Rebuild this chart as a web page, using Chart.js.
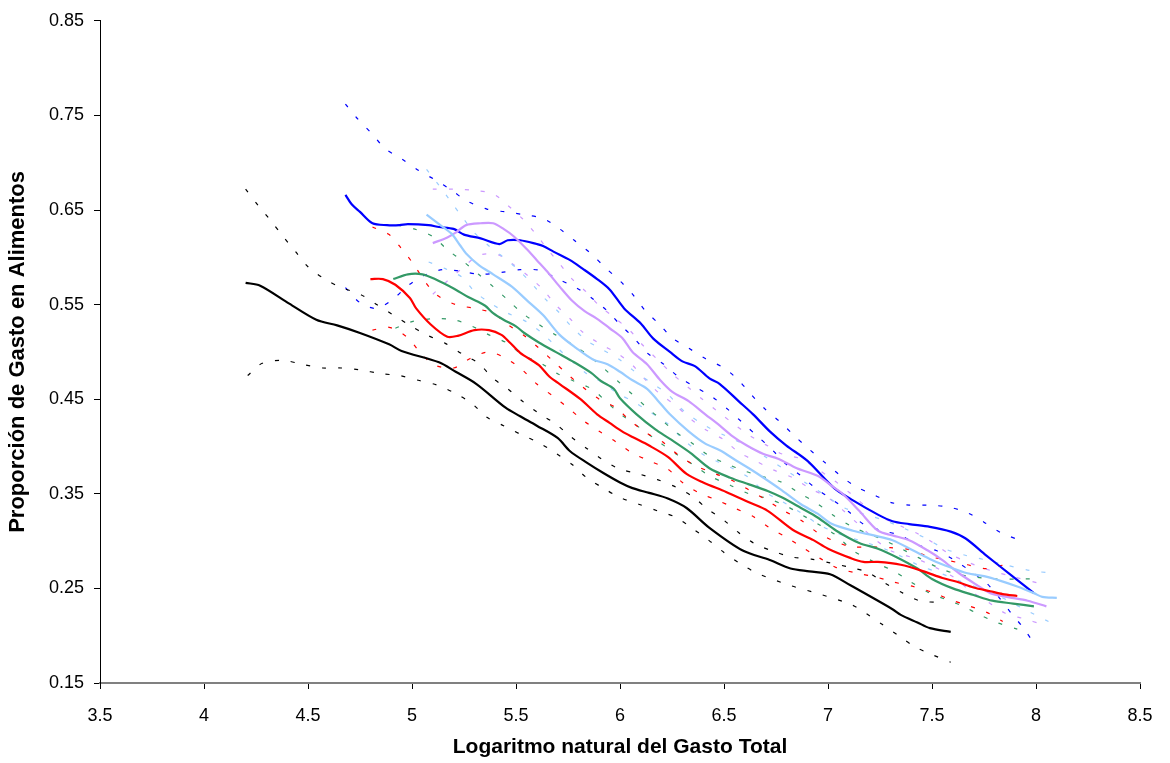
<!DOCTYPE html>
<html>
<head>
<meta charset="utf-8">
<script src="https://cdn.jsdelivr.net/npm/chart.js@4.4.1/dist/chart.umd.min.js"></script>
<style>
html,body{margin:0;padding:0;background:#fff;}
#wrap{width:1170px;height:763px;position:relative;}
</style>
</head>
<body>
<div id="wrap"><canvas id="c"></canvas></div>
<script>
// Tick labels
const xTicks = [3.5,4,4.5,5,5.5,6,6.5,7,7.5,8,8.5];
const yTicks = [0.15,0.25,0.35,0.45,0.55,0.65,0.75,0.85];

// Series: [x, y] pairs
const blackMean = [[4.20,0.573],[4.27,0.570],[4.41,0.551],[4.54,0.534],[4.64,0.528],[4.75,0.520],[4.89,0.508],[4.95,0.501],[5.13,0.489],[5.21,0.479],[5.31,0.466],[5.45,0.441],[5.52,0.432],[5.60,0.422],[5.70,0.409],[5.76,0.395],[5.84,0.383],[5.92,0.372],[6.00,0.362],[6.06,0.356],[6.14,0.351],[6.23,0.345],[6.32,0.335],[6.43,0.314],[6.59,0.290],[6.72,0.280],[6.82,0.271],[6.91,0.268],[7.01,0.265],[7.11,0.253],[7.31,0.228],[7.35,0.222],[7.43,0.214],[7.49,0.208],[7.59,0.204]];
const blackHigh = [[4.20,0.672],[4.26,0.655],[4.32,0.639],[4.38,0.622],[4.44,0.606],[4.50,0.590],[4.58,0.577],[4.66,0.568],[4.75,0.561],[4.83,0.550],[4.91,0.539],[4.99,0.528],[5.07,0.518],[5.16,0.509],[5.24,0.498],[5.32,0.488],[5.39,0.472],[5.46,0.461],[5.53,0.448],[5.61,0.435],[5.69,0.424],[5.76,0.411],[5.84,0.398],[5.91,0.387],[5.99,0.377],[6.09,0.371],[6.18,0.365],[6.27,0.357],[6.35,0.347],[6.42,0.334],[6.50,0.322],[6.57,0.309],[6.65,0.297],[6.74,0.289],[6.83,0.283],[6.92,0.281],[7.01,0.277],[7.11,0.272],[7.19,0.267],[7.27,0.256],[7.36,0.245],[7.44,0.237],[7.54,0.235]];
const blackLow = [[4.21,0.475],[4.28,0.488],[4.38,0.491],[4.47,0.487],[4.57,0.483],[4.66,0.483],[4.75,0.481],[4.85,0.477],[4.94,0.475],[5.03,0.470],[5.12,0.465],[5.21,0.456],[5.29,0.445],[5.36,0.431],[5.44,0.422],[5.53,0.412],[5.61,0.404],[5.69,0.393],[5.77,0.381],[5.84,0.367],[5.92,0.356],[6.00,0.346],[6.09,0.339],[6.18,0.332],[6.27,0.325],[6.35,0.313],[6.42,0.302],[6.50,0.288],[6.58,0.276],[6.66,0.266],[6.82,0.253],[6.96,0.244],[7.11,0.233],[7.18,0.224],[7.26,0.212],[7.34,0.200],[7.42,0.188],[7.50,0.180],[7.59,0.172]];

const redMean = [[4.80,0.577],[4.86,0.577],[4.92,0.571],[4.99,0.557],[5.02,0.546],[5.09,0.529],[5.17,0.516],[5.22,0.517],[5.30,0.523],[5.37,0.523],[5.43,0.518],[5.47,0.510],[5.52,0.499],[5.61,0.486],[5.66,0.474],[5.71,0.466],[5.81,0.450],[5.89,0.434],[5.95,0.425],[6.01,0.416],[6.06,0.410],[6.14,0.401],[6.23,0.389],[6.32,0.371],[6.40,0.362],[6.51,0.352],[6.62,0.341],[6.71,0.332],[6.83,0.312],[6.93,0.301],[7.00,0.292],[7.11,0.282],[7.17,0.278],[7.24,0.278],[7.35,0.275],[7.46,0.268],[7.55,0.261],[7.62,0.257],[7.70,0.251],[7.78,0.247],[7.84,0.244],[7.91,0.242]];
const redHigh = [[4.81,0.632],[4.89,0.624],[4.95,0.609],[5.01,0.592],[5.06,0.575],[5.12,0.560],[5.21,0.550],[5.30,0.546],[5.39,0.541],[5.46,0.529],[5.54,0.517],[5.61,0.504],[5.68,0.490],[5.75,0.476],[5.82,0.463],[5.90,0.450],[5.98,0.441],[6.05,0.427],[6.13,0.414],[6.21,0.404],[6.28,0.391],[6.36,0.380],[6.46,0.371],[6.54,0.364],[6.62,0.354],[6.70,0.344],[6.78,0.333],[6.87,0.322],[6.95,0.309],[7.02,0.301],[7.11,0.294],[7.20,0.294],[7.30,0.293],[7.39,0.291],[7.48,0.284],[7.57,0.280],[7.67,0.275],[7.76,0.271],[7.85,0.275]];
const redLow = [[4.81,0.523],[4.89,0.526],[4.98,0.515],[5.04,0.499],[5.11,0.486],[5.20,0.483],[5.28,0.493],[5.37,0.500],[5.46,0.492],[5.53,0.481],[5.60,0.466],[5.68,0.453],[5.75,0.441],[5.82,0.428],[5.90,0.416],[5.98,0.405],[6.06,0.393],[6.14,0.385],[6.23,0.376],[6.30,0.362],[6.38,0.351],[6.47,0.343],[6.55,0.335],[6.64,0.326],[6.72,0.314],[6.80,0.304],[6.88,0.293],[6.96,0.282],[7.04,0.272],[7.14,0.266],[7.23,0.262],[7.31,0.257],[7.41,0.252],[7.50,0.246],[7.59,0.238],[7.67,0.232],[7.76,0.225],[7.84,0.215]];

const greenMean = [[4.91,0.577],[4.98,0.582],[5.05,0.582],[5.11,0.577],[5.20,0.567],[5.27,0.558],[5.35,0.549],[5.39,0.541],[5.44,0.534],[5.50,0.527],[5.54,0.520],[5.61,0.510],[5.69,0.500],[5.78,0.489],[5.86,0.478],[5.91,0.469],[5.97,0.461],[6.00,0.451],[6.08,0.434],[6.17,0.418],[6.24,0.408],[6.34,0.393],[6.43,0.377],[6.53,0.367],[6.62,0.360],[6.71,0.353],[6.78,0.346],[6.87,0.335],[6.95,0.325],[7.04,0.311],[7.15,0.298],[7.24,0.292],[7.33,0.283],[7.43,0.271],[7.50,0.260],[7.60,0.250],[7.70,0.243],[7.79,0.237],[7.89,0.234],[7.99,0.231]];
const greenHigh = [[4.93,0.634],[5.01,0.630],[5.10,0.622],[5.17,0.608],[5.25,0.595],[5.32,0.582],[5.39,0.569],[5.46,0.555],[5.53,0.541],[5.61,0.529],[5.69,0.518],[5.77,0.508],[5.85,0.496],[5.92,0.483],[5.99,0.469],[6.06,0.455],[6.13,0.441],[6.20,0.428],[6.27,0.415],[6.35,0.403],[6.43,0.390],[6.51,0.382],[6.60,0.374],[6.69,0.368],[6.78,0.362],[6.86,0.351],[6.94,0.341],[7.02,0.328],[7.11,0.316],[7.19,0.308],[7.27,0.301],[7.36,0.291],[7.44,0.282],[7.53,0.272],[7.62,0.265],[7.71,0.262],[7.80,0.260],[7.98,0.260]];
const greenLow = [[4.92,0.525],[5.00,0.532],[5.10,0.535],[5.20,0.534],[5.29,0.527],[5.37,0.518],[5.46,0.509],[5.53,0.497],[5.62,0.488],[5.70,0.477],[5.77,0.470],[5.87,0.460],[5.94,0.446],[6.01,0.433],[6.10,0.419],[6.18,0.406],[6.27,0.392],[6.35,0.381],[6.43,0.369],[6.53,0.359],[6.62,0.350],[6.71,0.345],[6.80,0.337],[6.88,0.327],[6.96,0.317],[7.04,0.306],[7.12,0.290],[7.23,0.277],[7.31,0.269],[7.39,0.258],[7.48,0.246],[7.57,0.238],[7.65,0.231],[7.73,0.222],[7.81,0.214],[7.91,0.207]];

const lightBlueMean = [[5.07,0.645],[5.13,0.635],[5.19,0.625],[5.23,0.613],[5.26,0.604],[5.32,0.592],[5.39,0.582],[5.48,0.569],[5.55,0.555],[5.63,0.539],[5.71,0.518],[5.79,0.504],[5.87,0.492],[5.94,0.487],[6.00,0.479],[6.06,0.470],[6.13,0.461],[6.18,0.449],[6.24,0.434],[6.33,0.416],[6.41,0.403],[6.48,0.396],[6.56,0.385],[6.62,0.377],[6.69,0.367],[6.77,0.355],[6.87,0.339],[6.95,0.329],[7.02,0.318],[7.12,0.311],[7.22,0.306],[7.31,0.301],[7.41,0.290],[7.50,0.280],[7.59,0.272],[7.67,0.266],[7.75,0.263],[7.83,0.258],[7.91,0.252],[7.99,0.245],[8.03,0.241],[8.10,0.240]];
const lightBlueHigh = [[5.07,0.693],[5.13,0.676],[5.18,0.661],[5.24,0.643],[5.30,0.626],[5.37,0.612],[5.44,0.600],[5.51,0.587],[5.58,0.571],[5.64,0.556],[5.71,0.541],[5.77,0.526],[5.84,0.512],[5.91,0.503],[5.99,0.493],[6.06,0.481],[6.14,0.469],[6.23,0.455],[6.31,0.437],[6.41,0.422],[6.51,0.411],[6.60,0.402],[6.70,0.389],[6.79,0.376],[6.89,0.362],[6.99,0.348],[7.08,0.335],[7.18,0.328],[7.27,0.322],[7.37,0.313],[7.47,0.303],[7.56,0.292],[7.66,0.285],[7.76,0.280],[7.85,0.275],[7.97,0.269],[8.08,0.266]];
const lightBlueLow = [[5.08,0.595],[5.16,0.588],[5.24,0.579],[5.30,0.564],[5.38,0.551],[5.46,0.541],[5.55,0.532],[5.63,0.519],[5.70,0.504],[5.77,0.490],[5.84,0.477],[5.92,0.467],[5.99,0.456],[6.06,0.448],[6.14,0.437],[6.23,0.424],[6.31,0.406],[6.41,0.390],[6.48,0.383],[6.54,0.377],[6.62,0.367],[6.69,0.353],[6.77,0.343],[6.87,0.330],[6.96,0.317],[7.05,0.308],[7.19,0.298],[7.27,0.292],[7.36,0.283],[7.44,0.274],[7.53,0.267],[7.63,0.258],[7.73,0.250],[7.83,0.241],[7.90,0.233],[7.97,0.225],[8.06,0.215]];

const violetMean = [[5.10,0.615],[5.17,0.621],[5.21,0.626],[5.26,0.634],[5.33,0.636],[5.39,0.636],[5.44,0.630],[5.49,0.622],[5.55,0.609],[5.60,0.597],[5.65,0.585],[5.71,0.569],[5.77,0.554],[5.83,0.543],[5.89,0.535],[5.95,0.525],[6.01,0.515],[6.06,0.500],[6.13,0.487],[6.19,0.471],[6.25,0.458],[6.33,0.448],[6.41,0.434],[6.48,0.422],[6.54,0.411],[6.61,0.401],[6.69,0.392],[6.76,0.387],[6.85,0.377],[6.95,0.369],[7.02,0.358],[7.07,0.350],[7.15,0.332],[7.24,0.311],[7.31,0.306],[7.39,0.301],[7.48,0.290],[7.55,0.280],[7.63,0.266],[7.72,0.253],[7.78,0.245],[7.86,0.241],[7.96,0.237],[8.05,0.231]];
const violetHigh = [[5.10,0.672],[5.20,0.672],[5.29,0.671],[5.39,0.667],[5.46,0.655],[5.53,0.641],[5.59,0.626],[5.65,0.609],[5.71,0.593],[5.77,0.577],[5.84,0.563],[5.90,0.549],[5.98,0.535],[6.05,0.522],[6.11,0.507],[6.18,0.492],[6.25,0.477],[6.32,0.464],[6.39,0.451],[6.47,0.437],[6.54,0.425],[6.62,0.412],[6.70,0.402],[6.78,0.392],[6.87,0.387],[6.95,0.376],[7.03,0.364],[7.11,0.350],[7.18,0.337],[7.26,0.325],[7.35,0.316],[7.43,0.308],[7.50,0.299],[7.58,0.287],[7.68,0.277],[7.78,0.269],[7.88,0.263],[8.02,0.255]];
const violetLow = [[5.10,0.561],[5.17,0.575],[5.25,0.590],[5.32,0.602],[5.41,0.603],[5.49,0.592],[5.56,0.580],[5.63,0.566],[5.69,0.550],[5.76,0.535],[5.82,0.521],[5.90,0.509],[5.99,0.498],[6.06,0.486],[6.12,0.471],[6.19,0.456],[6.27,0.443],[6.34,0.429],[6.41,0.418],[6.50,0.407],[6.57,0.394],[6.65,0.385],[6.74,0.375],[6.83,0.367],[6.91,0.356],[7.00,0.346],[7.07,0.333],[7.14,0.319],[7.22,0.303],[7.30,0.290],[7.37,0.285],[7.44,0.280],[7.51,0.273],[7.61,0.261],[7.68,0.248],[7.76,0.237],[7.85,0.224],[7.94,0.218],[8.03,0.212]];

const blueMean = [[4.68,0.666],[4.71,0.656],[4.75,0.648],[4.81,0.636],[4.88,0.634],[4.94,0.634],[4.98,0.635],[5.08,0.634],[5.13,0.632],[5.20,0.630],[5.25,0.624],[5.33,0.620],[5.42,0.614],[5.46,0.618],[5.52,0.618],[5.60,0.614],[5.63,0.612],[5.68,0.606],[5.76,0.597],[5.82,0.588],[5.89,0.577],[5.95,0.566],[6.02,0.546],[6.10,0.530],[6.16,0.514],[6.24,0.500],[6.30,0.490],[6.36,0.485],[6.43,0.472],[6.48,0.466],[6.57,0.448],[6.64,0.434],[6.72,0.416],[6.80,0.401],[6.90,0.385],[7.03,0.356],[7.12,0.343],[7.24,0.328],[7.31,0.321],[7.39,0.318],[7.49,0.315],[7.59,0.310],[7.66,0.303],[7.76,0.285],[7.88,0.264],[7.99,0.245]];
const blueHigh = [[4.68,0.762],[4.74,0.746],[4.81,0.730],[4.87,0.715],[4.95,0.704],[5.03,0.692],[5.11,0.682],[5.19,0.671],[5.26,0.660],[5.36,0.651],[5.45,0.648],[5.54,0.645],[5.63,0.641],[5.71,0.630],[5.78,0.618],[5.86,0.604],[5.93,0.589],[6.00,0.575],[6.06,0.561],[6.12,0.544],[6.19,0.529],[6.25,0.515],[6.33,0.504],[6.41,0.493],[6.50,0.483],[6.57,0.470],[6.63,0.455],[6.70,0.439],[6.77,0.426],[6.84,0.411],[6.91,0.397],[6.98,0.384],[7.05,0.371],[7.13,0.358],[7.22,0.349],[7.30,0.341],[7.39,0.338],[7.48,0.338],[7.58,0.336],[7.67,0.330],[7.75,0.320],[7.83,0.309],[7.92,0.301]];
const blueLow = [[4.68,0.568],[4.75,0.552],[4.83,0.546],[4.91,0.556],[4.98,0.570],[5.06,0.581],[5.15,0.587],[5.24,0.585],[5.33,0.582],[5.43,0.584],[5.52,0.587],[5.62,0.586],[5.70,0.577],[5.78,0.569],[5.87,0.556],[5.94,0.543],[6.00,0.529],[6.07,0.514],[6.13,0.499],[6.21,0.487],[6.28,0.474],[6.36,0.463],[6.44,0.453],[6.52,0.439],[6.59,0.425],[6.66,0.411],[6.73,0.397],[6.79,0.383],[6.87,0.369],[6.94,0.356],[7.02,0.344],[7.10,0.331],[7.17,0.318],[7.26,0.311],[7.35,0.306],[7.43,0.296],[7.52,0.290],[7.60,0.281],[7.68,0.269],[7.76,0.256],[7.82,0.241],[7.88,0.224],[7.94,0.208],[7.99,0.192]];

const colors = {
  black: '#000000', red: '#FF0000', green: '#339966',
  lightBlue: '#99CCFF', violet: '#CC99FF', blue: '#0000FF'
};

const groups = [
  ['black', blackMean, blackHigh, blackLow],
  ['red', redMean, redHigh, redLow],
  ['green', greenMean, greenHigh, greenLow],
  ['lightBlue', lightBlueMean, lightBlueHigh, lightBlueLow],
  ['violet', violetMean, violetHigh, violetLow],
  ['blue', blueMean, blueHigh, blueLow]
];

const toPts = arr => arr.map(p => ({x: p[0], y: p[1]}));
const datasets = [];
groups.forEach(([name, mean, hi, lo]) => {
  const c = colors[name];
  datasets.push({label: name, data: toPts(mean), borderColor: c, borderWidth: 2.2,
    showLine: true, pointRadius: 0, tension: 0.3, order: 0});
  [hi, lo].forEach((band, i) => {
    datasets.push({label: name + (i ? ' low' : ' high'), data: toPts(band), borderColor: c,
      borderWidth: 1.2, borderDash: [4, 12], showLine: true, pointRadius: 0, tension: 0.3, order: 1});
  });
});

const FONT = 'Liberation Sans, Arial, sans-serif';
new Chart(document.getElementById('c'), {
  type: 'scatter',
  data: {datasets},
  options: {
    responsive: true, maintainAspectRatio: false, animation: false,
    layout: {padding: {top: 18, right: 30, left: 0, bottom: 0}},
    plugins: {legend: {display: false}, tooltip: {enabled: false}},
    scales: {
      x: {
        type: 'linear', min: 3.5, max: 8.5,
        afterFit: s => { s.height = 80; },
        afterBuildTicks: s => { s.ticks = xTicks.map(v => ({value: v})); },
        grid: {display: true, drawOnChartArea: false, drawTicks: true, tickLength: 6, color: '#000'},
        border: {display: true, color: '#808080', width: 2},
        ticks: {color: '#000', padding: 16, font: {family: FONT, size: 18},
          callback: v => String(v), maxRotation: 0, autoSkip: false},
        title: {display: true, text: 'Logaritmo natural del Gasto Total', color: '#000',
          font: {family: FONT, size: 21, weight: 'bold'},
          padding: {top: 0, bottom: 3}}
      },
      y: {
        type: 'linear', min: 0.15, max: 0.85,
        afterFit: s => { s.width = 100; },
        afterBuildTicks: s => { s.ticks = yTicks.map(v => ({value: v})); },
        grid: {display: true, drawOnChartArea: false, drawTicks: true, tickLength: 6, color: '#000'},
        border: {display: true, color: '#000', width: 1},
        ticks: {color: '#000', padding: 10, font: {family: FONT, size: 18},
          callback: v => v.toFixed(2), autoSkip: false},
        title: {display: true, text: 'Proporción de Gasto en Alimentos', color: '#000',
          font: {family: FONT, size: 22, weight: 'bold'},
          padding: {top: 5, bottom: 0}}
      }
    }
  }
});
</script>
</body>
</html>
